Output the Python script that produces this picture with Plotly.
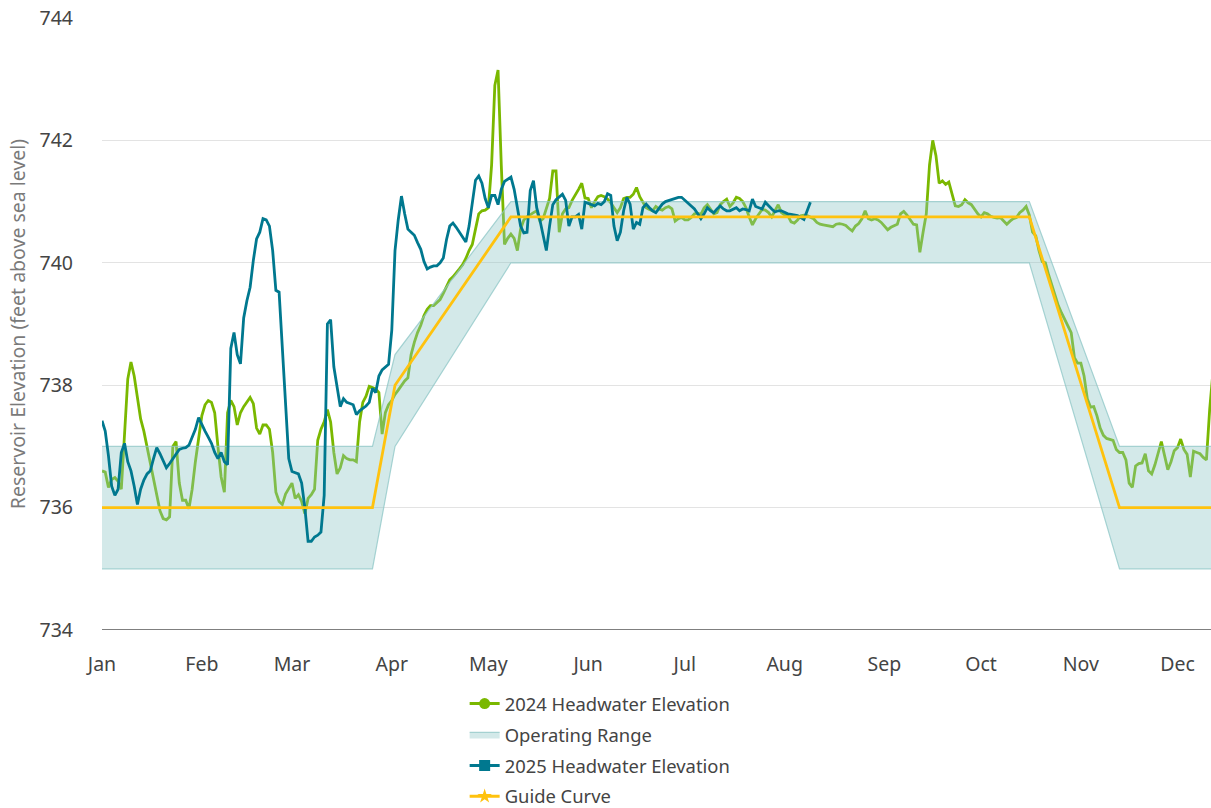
import pandas as pd
import plotly.graph_objects as go

# ---------------- data ----------------
# Daily headwater elevations (ft), starting Jan 1, plotted on a common calendar year
elev_2024 = [
    736.6, 736.58, 736.33, 736.46, 736.49, 736.43, 736.3, 737.2, 738.1, 738.38,   # 0-9
    738.15, 737.8, 737.45, 737.25, 737.0, 736.7, 736.45, 736.2, 735.95, 735.82,  # 10-19
    735.8, 735.85, 737.0, 737.08, 736.4, 736.12, 736.12, 735.98, 736.3, 736.75,  # 20-29
    737.15, 737.5, 737.68, 737.75, 737.72, 737.55, 737.0, 736.5, 736.25, 737.55, # 30-39
    737.75, 737.65, 737.35, 737.55, 737.65, 737.72, 737.8, 737.7, 737.3, 737.2,  # 40-49
    737.35, 737.35, 737.28, 736.9, 736.25, 736.1, 736.05, 736.22, 736.3, 736.4,  # 50-59
    736.15, 736.21, 736.1, 735.9, 736.15, 736.21, 736.3, 737.1, 737.28, 737.4,   # 60-69
    737.6, 737.4, 736.9, 736.55, 736.65, 736.85, 736.8, 736.78, 736.78, 736.75,  # 70-79
    737.4, 737.72, 737.82, 737.98, 737.96, 737.94, 737.88, 737.2, 737.55, 737.68,# 80-89
    737.75, 737.85, 737.92, 738.0, 738.07, 738.12, 738.5, 738.7, 738.86, 738.98, # 90-99
    739.14, 739.24, 739.3, 739.3, 739.35, 739.4, 739.5, 739.6, 739.72, 739.77,   # 100-109
    739.83, 739.9, 739.97, 740.07, 740.2, 740.3, 740.55, 740.8, 740.85, 740.86,  # 110-119
    740.9, 741.6, 742.9, 743.15, 741.6, 740.3, 740.4, 740.47, 740.4, 740.2,      # 120-129
    740.55, 740.7, 740.75, 740.79, 740.82, 740.85, 740.68, 740.72, 740.88, 741.05,  # 130-139
    741.5, 741.5, 740.5, 740.8, 740.88, 740.9, 741.02, 741.1, 741.2, 741.3,      # 140-149
    741.06, 741.05, 740.9, 741.0, 741.08, 741.1, 741.08, 741.04, 740.98, 740.9,  # 150-159
    740.82, 740.9, 741.05, 741.07, 741.07, 741.12, 741.23, 741.08, 740.98, 740.9,# 160-169
    740.87, 740.85, 740.92, 740.88, 740.86, 740.9, 740.92, 740.88, 740.68, 740.72,  # 170-179
    740.74, 740.7, 740.7, 740.74, 740.8, 740.81, 740.79, 740.9, 740.95, 740.88,  # 180-189
    740.8, 740.82, 740.95, 741.0, 741.04, 740.92, 740.98, 741.07, 741.05, 741.0, # 190-199
    740.9, 740.75, 740.62, 740.72, 740.8, 740.87, 740.86, 740.82, 740.75, 740.85,# 200-209
    740.95, 740.82, 740.78, 740.77, 740.67, 740.65, 740.7, 740.77, 740.78, 740.77,  # 210-219
    740.75, 740.72, 740.66, 740.63, 740.62, 740.61, 740.6, 740.59, 740.63, 740.64,  # 220-229
    740.63, 740.61, 740.56, 740.52, 740.6, 740.64, 740.72, 740.85, 740.72, 740.7,# 230-239
    740.72, 740.7, 740.66, 740.6, 740.54, 740.58, 740.6, 740.63, 740.8, 740.84,  # 240-249
    740.78, 740.7, 740.63, 740.62, 740.17, 740.5, 740.8, 741.6, 742.0, 741.75,   # 250-259
    741.3, 741.34, 741.28, 741.32, 741.1, 740.93, 740.92, 740.95, 741.03, 740.98,# 260-269
    740.95, 740.87, 740.8, 740.75, 740.82, 740.8, 740.76, 740.74, 740.73, 740.74,# 270-279
    740.68, 740.63, 740.68, 740.72, 740.74, 740.82, 740.86, 740.92, 740.78, 740.5,  # 280-289
    740.44, 740.2, 740.02, 740.0, 739.8, 739.62, 739.45, 739.3, 739.18, 739.08,  # 290-299
    738.97, 738.86, 738.45, 738.36, 738.36, 738.15, 737.78, 737.64, 737.65, 737.5,  # 300-309
    737.3, 737.18, 737.13, 737.11, 737.1, 736.95, 736.9, 736.9, 736.78, 736.4,   # 310-319
    736.33, 736.68, 736.72, 736.73, 736.88, 736.6, 736.55, 736.7, 736.88, 737.08,# 320-329
    736.85, 736.62, 736.75, 736.93, 736.98, 737.12, 736.95, 736.87, 736.5, 736.92,  # 330-339
    736.9, 736.88, 736.82, 736.78, 737.6, 738.2,                                 # 340-345
]

elev_2025 = [
    737.42, 737.25, 736.85, 736.35, 736.2, 736.3, 736.9, 737.05, 736.75, 736.6,  # 0-9
    736.35, 736.05, 736.3, 736.45, 736.55, 736.6, 736.8, 736.98, 736.88, 736.75, # 10-19
    736.65, 736.72, 736.8, 736.88, 736.95, 736.97, 736.98, 737.02, 737.15, 737.28,  # 20-29
    737.47, 737.35, 737.25, 737.15, 737.05, 736.9, 736.8, 736.9, 736.75, 736.7,  # 30-39
    738.6, 738.86, 738.5, 738.35, 739.1, 739.38, 739.6, 740.04, 740.39, 740.5,   # 40-49
    740.72, 740.7, 740.6, 740.2, 739.55, 739.52, 738.62, 737.7, 736.8, 736.59,   # 50-59
    736.57, 736.55, 736.4, 736.0, 735.45, 735.45, 735.52, 735.55, 735.6, 736.2,  # 60-69
    739.0, 739.07, 738.3, 738.0, 737.65, 737.78, 737.72, 737.7, 737.68, 737.52,  # 70-79
    737.58, 737.62, 737.66, 737.72, 737.95, 737.88, 738.15, 738.25, 738.3, 738.34,  # 80-89
    738.9, 740.2, 740.7, 741.09, 740.8, 740.55, 740.5, 740.45, 740.33, 740.22,   # 90-99
    740.02, 739.9, 739.93, 739.95, 739.95, 740.0, 740.08, 740.38, 740.6, 740.65, # 100-109
    740.58, 740.5, 740.4, 740.34, 740.6, 740.95, 741.35, 741.42, 741.3, 741.05,  # 110-119
    740.9, 741.1, 741.1, 740.95, 741.2, 741.33, 741.36, 741.4, 741.2, 740.9,     # 120-129
    740.6, 740.49, 740.5, 741.18, 741.34, 740.9, 740.7, 740.45, 740.2, 740.6,    # 130-139
    740.95, 741.03, 741.08, 741.12, 741.02, 740.6, 740.75, 740.75, 740.79, 740.55,  # 140-149
    740.99, 740.97, 740.95, 740.93, 740.97, 740.95, 741.0, 741.13, 741.1, 740.6, # 150-159
    740.36, 740.5, 740.85, 741.07, 740.96, 740.55, 740.66, 740.63, 740.9, 740.96,# 160-169
    740.9, 740.85, 740.82, 740.9, 740.96, 741.0, 741.02, 741.04, 741.06, 741.07, # 170-179
    741.07, 741.02, 740.98, 740.92, 740.88, 740.8, 740.72, 740.8, 740.9, 740.85, # 180-189
    740.82, 740.88, 740.93, 740.88, 740.85, 740.85, 740.88, 740.9, 740.85, 740.88,  # 190-199
    740.87, 740.85, 741.04, 740.92, 740.9, 740.88, 740.99, 740.93, 740.88, 740.83,  # 200-209
    740.85, 740.85, 740.82, 740.8, 740.79, 740.78, 740.77, 740.74, 740.71, 740.85,  # 210-219
    740.99,                                                                       # 220
]

# Guide curve and operating range breakpoints
rule_dates = ["2025-01-01", "2025-03-26", "2025-04-02", "2025-05-08",
              "2025-10-16", "2025-11-13", "2025-12-31"]
guide_curve = [736.0, 736.0, 738.0, 740.75, 740.75, 736.0, 736.0]
range_upper = [737.0, 737.0, 738.5, 741.0, 741.0, 737.0, 737.0]
range_lower = [735.0, 735.0, 737.0, 740.0, 740.0, 735.0, 735.0]

y_ticks = [734, 736, 738, 740, 742, 744]

start = pd.Timestamp("2025-01-01")
dates_2024 = start + pd.to_timedelta(list(range(len(elev_2024))), unit="D")
dates_2025 = start + pd.to_timedelta(list(range(len(elev_2025))), unit="D")

GREEN = "#7AB800"
TEAL = "#00788F"
GOLD = "#FFC20E"
BAND_FILL = "rgba(140,198,198,0.38)"
BAND_LINE = "rgba(140,198,198,0.75)"
FONT = "Noto Sans"
LW = 2.8

fig = go.Figure()

# 2024 line (drawn under the band)
fig.add_trace(go.Scatter(x=dates_2024, y=elev_2024, mode="lines",
                         line=dict(color=GREEN, width=LW), showlegend=False,
                         name="2024 Headwater Elevation"))
# Operating range band
fig.add_trace(go.Scatter(x=rule_dates, y=range_upper, mode="lines",
                         line=dict(color=BAND_LINE, width=1.2), showlegend=False,
                         name="Operating Range"))
fig.add_trace(go.Scatter(x=rule_dates, y=range_lower, mode="lines",
                         line=dict(color=BAND_LINE, width=1.2), fill="tonexty",
                         fillcolor=BAND_FILL, name="Operating Range",
                         legendgroup="b", legendrank=2))
# 2025 line
fig.add_trace(go.Scatter(x=dates_2025, y=elev_2025, mode="lines",
                         line=dict(color=TEAL, width=LW), showlegend=False,
                         name="2025 Headwater Elevation"))
# Guide curve
fig.add_trace(go.Scatter(x=rule_dates, y=guide_curve, mode="lines",
                         line=dict(color=GOLD, width=LW), showlegend=False,
                         name="Guide Curve"))

# Legend-only entries with markers
for nm, col, sym, grp, rank in [
    ("2024 Headwater Elevation", GREEN, "circle", "a", 1),
    ("2025 Headwater Elevation", TEAL, "square", "c", 3),
    ("Guide Curve", GOLD, "star", "d", 4),
]:
    fig.add_trace(go.Scatter(x=[None], y=[None], mode="lines+markers", name=nm,
                             line=dict(color=col, width=3),
                             marker=dict(color=col, symbol=sym, size=11),
                             legendgroup=grp, legendrank=rank))

fig.update_layout(
    width=1211, height=808,
    margin=dict(l=102, r=0, t=18, b=178, autoexpand=False),
    paper_bgcolor="white", plot_bgcolor="white",
    font=dict(family=FONT, color="#444444", size=18),
    showlegend=True,
    legend=dict(orientation="v", x=0.327, xanchor="left", y=-0.09, yanchor="top",
                traceorder="grouped", tracegroupgap=4,
                font=dict(family=FONT, size=18.4, color="#444444"),
                bgcolor="rgba(0,0,0,0)"),
    xaxis=dict(type="date", range=["2025-01-01", "2025-12-11 10:00"],
               dtick="M1", tick0="2025-01-01", tickformat="%b",
               showgrid=False, showline=False, zeroline=False, ticks="",
               ticklabelstandoff=20, automargin=False,
               tickfont=dict(family=FONT, size=19.5, color="#444444")),
    yaxis=dict(range=[734, 744], tickvals=y_ticks, showgrid=True,
               gridcolor="#E3E3E3", gridwidth=1, zeroline=False,
               showline=False, ticks="", ticklabelstandoff=28, automargin=False,
               tickfont=dict(family=FONT, size=19.5, color="#444444"),
               title=dict(text="Reservoir Elevation (feet above sea level)",
                          font=dict(family=FONT, size=19.5, color="#7A7A7A"),
                          standoff=8)),
    shapes=[dict(type="line", xref="paper", yref="y", x0=0, x1=1, y0=734, y1=734,
                 line=dict(color="#555555", width=1.5))],
)

fig.write_html("out.html",
               config={"displayModeBar": False},
               post_script="document.body.style.margin='0';"
                           "document.body.style.overflow='hidden';")
